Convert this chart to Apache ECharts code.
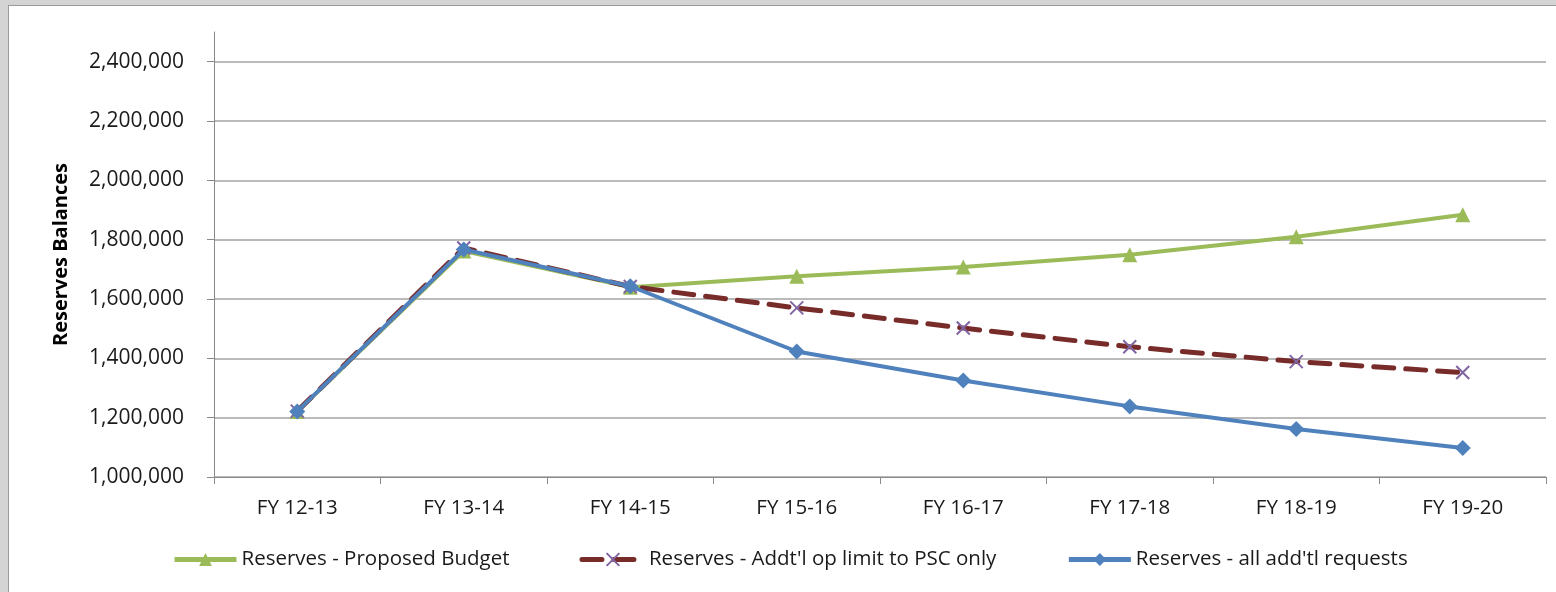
<!DOCTYPE html>
<html>
<head>
<meta charset="utf-8">
<script src="https://cdn.jsdelivr.net/npm/echarts@6/dist/echarts.min.js"></script>
<style>
  html, body { margin: 0; padding: 0; width: 1556px; height: 592px; overflow: hidden;
    background: #d4d4d4; }
  #chart { position: absolute; left: 8px; top: 5px; width: 1548px; height: 587px;
    background: #ffffff; border-left: 1px solid #9a9a9a; border-top: 1px solid #9a9a9a; box-sizing: border-box; }
</style>
</head>
<body>
<div id="chart"></div>
<script>
const categories = ['FY 12-13', 'FY 13-14', 'FY 14-15', 'FY 15-16', 'FY 16-17', 'FY 17-18', 'FY 18-19', 'FY 19-20'];
const proposedBudget = [1221000, 1762000, 1640000, 1677000, 1708000, 1749000, 1810000, 1884000];
const pscOnly = [1222000, 1772000, 1642000, 1570000, 1502000, 1439000, 1389000, 1352000];
const allRequests = [1221000, 1767000, 1643000, 1423000, 1325000, 1238000, 1162000, 1098000];
const yTicks = [1000000, 1200000, 1400000, 1600000, 1800000, 2000000, 2200000, 2400000];
const seriesNames = ['Reserves - Proposed Budget', "Reserves - Addt'l op limit to PSC only", "Reserves - all add'tl requests"];
const yAxisTitle = 'Reserves Balances';

const FONT = '"Open Sans", "Noto Sans", sans-serif';
const chart = echarts.init(document.getElementById('chart'), null, { renderer: 'canvas' });
const fmt = v => v.toLocaleString('en-US');

chart.setOption({
  animation: false,
  textStyle: { fontFamily: FONT },
  grid: { left: 205, top: 26, width: 1332, height: 445, containLabel: false },
  legend: {
    top: 538, left: 158, itemWidth: 62, itemHeight: 16, itemGap: 70,
    lineStyle: { width: 5 },
    textStyle: { fontFamily: FONT, fontSize: 20.5, color: '#1a1a1a' },
    data: seriesNames
  },
  xAxis: {
    type: 'category', data: categories, boundaryGap: true,
    axisLine: { lineStyle: { color: '#8a8a8a', width: 1 } },
    axisTick: { show: true, alignWithLabel: false, length: 7, lineStyle: { color: '#8a8a8a' } },
    axisLabel: { fontFamily: FONT, fontSize: 20.5, color: '#1a1a1a', margin: 21 },
    splitLine: { show: false }
  },
  yAxis: {
    type: 'value', min: 1000000, max: 2500000, interval: 200000,
    name: yAxisTitle, nameLocation: 'middle', nameGap: 143, nameRotate: 90,
    nameTextStyle: { fontFamily: FONT, fontSize: 20, fontWeight: 'bold', color: '#000' },
    axisLine: { show: true, lineStyle: { color: '#8a8a8a', width: 1 } },
    axisTick: { show: true, length: 7, lineStyle: { color: '#8a8a8a' }, customValues: yTicks },
    axisLabel: { fontFamily: FONT, fontSize: 21, color: '#1a1a1a', margin: 30, formatter: fmt,
      customValues: yTicks },
    splitLine: { show: true, lineStyle: { color: '#a3a3a3', width: 1.5 } }
  },
  series: [
    {
      name: seriesNames[0], type: 'line', data: proposedBudget,
      symbol: 'triangle', symbolSize: 15,
      lineStyle: { color: '#9bbb59', width: 4 },
      itemStyle: { color: '#9bbb59' }, z: 2
    },
    {
      name: seriesNames[1], type: 'line', data: pscOnly,
      symbol: 'path://M0,0L10,10M10,0L0,10', symbolSize: 13,
      lineStyle: { color: '#772c2a', width: 5, type: [20, 12], cap: 'round' },
      itemStyle: { color: 'rgba(0,0,0,0)', borderColor: '#8064a2', borderWidth: 2 }, z: 3
    },
    {
      name: seriesNames[2], type: 'line', data: allRequests,
      symbol: 'diamond', symbolSize: 16,
      lineStyle: { color: '#4f81bd', width: 4 },
      itemStyle: { color: '#4f81bd' }, z: 4
    }
  ]
});
</script>
</body>
</html>
